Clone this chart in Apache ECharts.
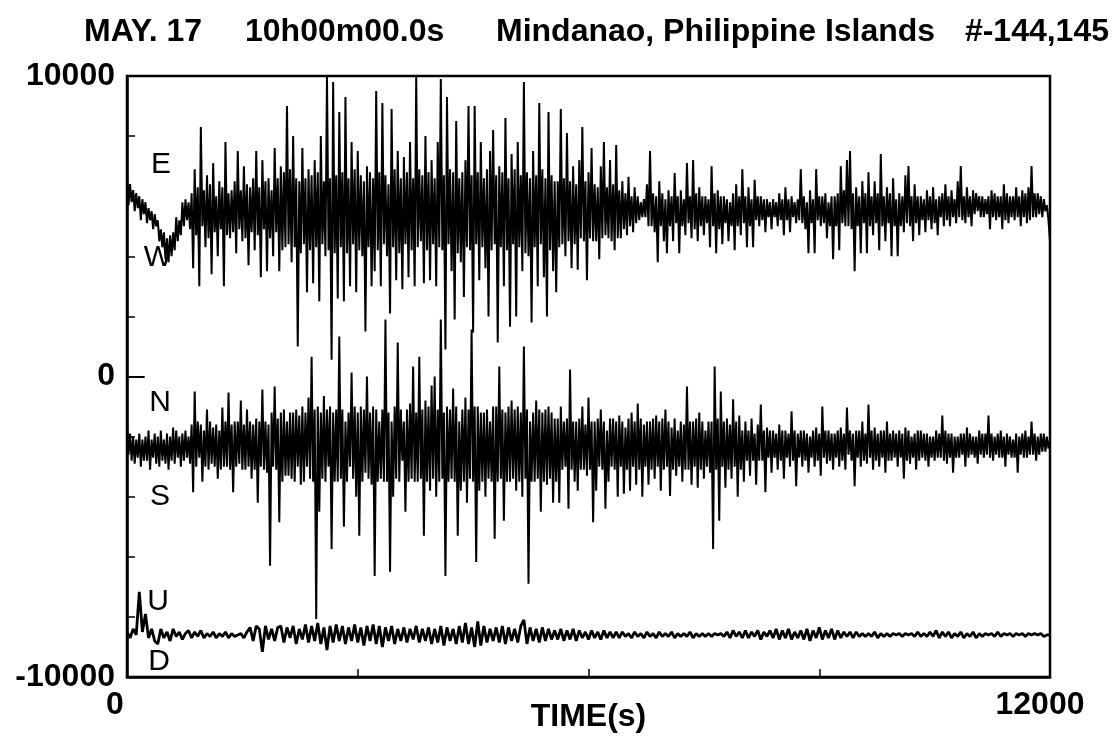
<!DOCTYPE html>
<html><head><meta charset="utf-8">
<script src="https://cdn.jsdelivr.net/npm/echarts@6/dist/echarts.min.js"></script>
<style>html,body{margin:0;padding:0;background:#fff}#c{width:1113px;height:736px}</style>
</head><body><div id="c"></div>
<script>
const horizStep = 20;   // E-W and N-S traces
const vertStep = 40;    // U-D trace

// East-West component (counts), one value every 20 s
const ewValues = [
6600,5700,6400,5800, 6200,5500,6100,5600, 6000,5200,5900,5400, 5800,5100,5600,5200, 5500,4900,5400,5000,
5200,4500,4900,4300, 4800,3900,4600,3800, 4700,4000,4800,4200, 5300,4500,5200,4700, 5800,5000,5900,5200,
5800,4900,6100,3600, 6900,4700,6300,3000, 8300,5000,6200,4300, 6700,4600,6400,3400, 7100,4800,6000,4000,
6500,4900,6300,3000, 7800,4700,6100,4600, 6200,4800,6500,4100, 7500,4900,6200,4500, 7000,4600,6400,3700,
6300,4800,6600,4200, 7500,4700,6300,3300, 7200,4900,6500,3500, 6600,4600,6200,4000, 7600,4800,6600,3500,
7000,4200,6800,4300, 9000,4400,6900,3800, 8000,4300,6600,1000, 6500,4100,7600,4400, 6600,2800,6900,4200,
6700,3100,7200,4300, 6800,2500,8000,4400, 6500,4000,10000,4200, 6600,560,9800,4100, 6700,2600,8800,4300,
6800,2500,9300,4100, 6600,3000,7800,4400, 6900,2800,7500,4200, 6700,4000,6500,1500, 7000,4300,6800,3000,
6600,3500,9500,4200, 6800,3000,9100,4400, 6700,4000,6400,2100, 8900,4300,6900,3200, 7500,4100,6600,2900,
7300,4400,6800,3300, 7800,4200,6600,3000, 10000,4300,6900,4500, 6700,3100,8000,4200, 6800,3200,7200,4400,
6600,3000,7800,4300, 9900,4200,6700,900, 9300,4400,6900,3500, 6800,1900,8500,4100, 6600,3800,6800,2650,
7200,4300,9000,4200, 6700,1460,9000,4400, 6800,3200,7800,4300, 6600,3600,6900,2000, 7500,4200,8200,4400,
6700,1130,7000,4300, 6800,3000,8600,4200, 6600,1660,7400,4400, 6900,2000,7800,4300, 6700,3500,9800,4100,
6800,4000,6600,1800, 7500,4300,6700,3000, 9100,4400,6900,3300, 6600,2000,8800,4200, 6700,3500,6500,2800,
6500,4300,8900,4400, 6600,4000,8100,4500, 6500,3600,7000,4400, 6400,3550,7200,4600, 8300,4500,6500,3200,
6800,4600,7600,4500, 6400,4500,6300,3900, 7000,4600,7800,4700, 6300,4600,7200,4500, 6400,4200,7700,4600,
6200,4600,6500,4900, 6100,4700,6650,5000, 6000,4800,6300,5100, 6000,5200,5800,5300, 5900,5300,6400,5000,
7500,5000,6100,4800, 6000,3800,6500,5000, 6100,4500,5900,4100, 6200,5000,6000,4500, 6770,5100,6000,4100,
6200,5000,5900,4700, 7100,5100,6000,4600, 7200,4900,6100,4500, 6300,5000,6000,4700, 6000,5100,5900,4300,
7000,5000,6100,4100, 6200,4900,6000,4400, 6000,5100,5900,4500, 5800,5000,6100,4200, 6400,5000,6000,4700,
6900,5100,6000,4300, 6300,5000,5900,4300, 6550,5200,6000,5000, 6000,5200,5900,4800, 5900,5300,5800,4900,
5900,5300,5800,5000, 6100,5200,5900,4700, 6300,5200,5900,4800, 6000,5300,5800,5100, 5900,5200,6900,5100,
6000,4900,5800,4100, 6200,5100,5900,4100, 6900,5200,6000,5000, 6000,5100,6100,4600, 5800,5000,6000,3900,
6000,5000,6100,4200, 7000,5100,6200,5000, 7200,5000,7500,4900, 6100,3500,6300,5000, 6000,4100,6500,5100,
6100,4100,6800,5000, 6000,4700,6500,5100, 6100,4200,7400,5000, 6000,4500,6300,5100, 6100,4000,6600,5000,
5900,4000,6100,5000, 6000,4800,6700,5100, 7000,5000,6000,4500, 6400,5100,6000,4700, 6000,5200,5900,4800,
6200,5200,6000,4900, 6300,5100,5900,4700, 6000,5300,6100,5000, 6400,5200,6000,5000, 6200,5300,5900,5100,
6500,5300,7000,5200, 6000,5100,6300,5300, 6000,5000,6200,5400, 6100,5500,6000,5300, 6000,5300,5900,5400,
6000,4900,6200,5300, 6100,5200,6000,5300, 6000,4900,6400,5200, 6100,5100,6000,5300, 6000,5200,6300,5300,
6000,5000,6200,5300, 6100,5100,6300,5200, 7000,5300,6100,5300, 6100,5400,6000,5300, 5900,5500,5700,5200,
4500
];

// North-South component (counts), one value every 20 s
const nsValues = [
-1700,-2600,-1900,-2800, -2000,-2900,-2100,-2700, -1900,-3000,-2100,-2800, -2000,-2800,-1800,-3100, -2100,-2700,-1900,-2900,
-2000,-3000,-1800,-2800, -2100,-2900,-1900,-3100, -2000,-2800,-1700,-2900, -1800,-2700,-2000,-3000, -1900,-2800,-1800,-2700,
-2000,-2900,-1600,-3850, -500,-3000,-1500,-2700, -1600,-3500,-1800,-3000, -1100,-3100,-1500,-2900, -1700,-3000,-1600,-3400,
-1800,-3100,-1030,-3000, -1500,-3000,-530,-3100, -1600,-3850,-1500,-3000, -1500,-2900,-800,-3100, -1600,-3100,-1100,-3000,
-1500,-3400,-1600,-3100, -1400,-4200,-1500,-3000, -430,-3100,-1500,-3200, -1600,-6300,-1200,-3000, -330,-3100,-1400,-4850,
-1200,-3500,-1100,-3300, -1500,-3300,-1200,-3400, -1200,-3500,-1100,-3000, -1300,-3600,-1000,-3500, -1200,-3000,-700,-3400,
660,-3500,-1100,-8070, -1000,-4500,-1200,-3400, -650,-3500,-1100,-3000, -1000,-5740,-1200,-3500, -1100,-3500,1330,-3400,
-1100,-5000,-1500,-3500, -1200,-3000,130,-3400, -1000,-4000,-1200,-5300, -1000,-3500,-1100,-3200, 0,-3400,-1200,-3600,
-1000,-6640,-1100,-3500, -1500,-3400,-1100,-3500, 1900,-3500,-1200,-6500, -1500,-4000,-1000,-3400, 1130,-3500,-1100,-2800,
-1500,-4500,-1100,-3500, -900,-3400,330,-3500, -1200,-3500,660,-3400, -1100,-5300,-800,-3500, -1000,-3800,-300,-3400,
0,-4000,-1100,-3500, 1900,-3400,-1200,-6640, -1000,-3500,-1100,-3400, -400,-3500,-1000,-5300, -1500,-3800,-1100,-3500,
-700,-4200,-1100,-3400, 1560,-3500,-1000,-6170, -1000,-3800,-1200,-3500, -1200,-4000,-1100,-3400, -1500,-3500,-1000,-5400,
-1000,-3500,330,-3400, -1100,-4800,-1200,-3500, -1000,-3500,-800,-3400, -1100,-3800,-1000,-3500, -1200,-4000,1000,-3400,
-1100,-6900,-1500,-3500, -1200,-3500,-800,-3400, -1100,-4500,-1200,-3500, -1100,-3600,-1000,-3400, -1200,-4200,-1400,-3500,
-1400,-4200,-1000,-3100, -1500,-3000,-1400,-4400, 230,-3100,-1500,-3500, -1500,-3800,-1400,-3100, -1000,-3100,-1600,-3300,
-700,-3100,-1500,-4850, -1500,-3800,-1400,-3000, -1100,-3100,-1500,-4400, -1800,-3500,-1400,-3000, -1400,-3100,-1500,-4000,
-1300,-3000,-1500,-3900, -1700,-3100,-1400,-3800, -1200,-3000,-1500,-3600, -900,-3100,-1400,-4000, -1600,-3000,-1500,-3600,
-1500,-3100,-1400,-3400, -1300,-3000,-1500,-3800, -1400,-3100,-1100,-3000, -1500,-3980,-1700,-3100, -1400,-3300,-1800,-3000,
-1500,-3500,-1600,-3100, -330,-3100,-1500,-3600, -1500,-3000,-1400,-3700, -1200,-3100,-1500,-3400, -1800,-3000,-1500,-3200,
-1500,-5740,330,-3100, -1400,-4800,-500,-3000, -1500,-3700,-1400,-3100, -1600,-3400,-760,-3000, -1500,-4000,-1300,-3100,
-1800,-3500,-1500,-2800, -1800,-3300,-1400,-2800, -1900,-3600,-1600,-2800, -930,-2800,-1800,-3850, -1700,-2700,-1800,-3200,
-1800,-2700,-1900,-3100, -1600,-2800,-1800,-3400, -1800,-2700,-1900,-3000, -1160,-2800,-1800,-3650, -1900,-2700,-1800,-3000,
-1800,-2800,-1900,-3200, -2000,-2700,-1800,-3000, -1700,-2800,-1900,-3300, -1000,-2700,-1800,-2900, -1800,-2800,-1900,-3100,
-1900,-2700,-1800,-3000, -1700,-2800,-1900,-3100, -1030,-2600,-1800,-2800, -1900,-3650,-1800,-2700, -1800,-3000,-1500,-2800,
-1900,-2900,-930,-2700, -1800,-3100,-1700,-2800, -1900,-3000,-1800,-2700, -1800,-3200,-1500,-2800, -1900,-2800,-1800,-2700,
-1900,-3000,-1800,-2700, -1900,-3400,-1700,-2800, -1800,-2900,-2000,-2700, -1900,-3100,-1800,-2800, -1800,-2700,-1900,-2800,
-1900,-3000,-2000,-2700, -2000,-2800,-1800,-2700, -1900,-2700,-1300,-2800, -1800,-2900,-1900,-2700, -1900,-3200,-2000,-2700,
-2000,-2700,-1900,-2600, -1900,-3000,-1700,-2700, -1900,-2600,-2000,-2700, -2000,-2900,-1800,-2600, -1900,-2700,-1900,-2600,
-1300,-2700,-1900,-2800, -2000,-2600,-1900,-2700, -1800,-2700,-2000,-3000, -1900,-2600,-2000,-2700, -2100,-2700,-1900,-3200,
-2000,-2600,-1900,-2700, -1800,-2700,-2000,-2600, -1500,-2600,-1900,-2800, -2000,-2600,-1900,-2500, -1900,-2500,-2000,-2400,
-2100
];

// Up-Down component (counts), one value every 40 s
const udValues = [
-8500,-8700,-8400,-8600,-7170,-8500,-7900,-8700,-8400,-8800,
-8900,-8400,-8700,-8500,-8800,-8400,-8650,-8500,-8750,-8550,
-8450,-8700,-8500,-8650,-8450,-8700,-8550,-8650,-8500,-8700,
-8550,-8650,-8500,-8700,-8550,-8650,-8600,-8550,-8700,-8500,
-8350,-8800,-8300,-8400,-9160,-8300,-8750,-8400,-8800,-8350,
-8300,-8850,-8350,-8700,-8300,-8900,-8400,-8750,-8250,-8850,
-8300,-8800,-8200,-8900,-8350,-9100,-8300,-8850,-8250,-8800,
-8300,-8900,-8350,-8800,-8250,-8850,-8350,-8950,-8300,-8800,
-8250,-8900,-8300,-9000,-8350,-8800,-8300,-8900,-8400,-8800,
-8350,-8850,-8400,-8750,-8300,-8850,-8400,-8800,-8350,-8900,
-8400,-8850,-8300,-8950,-8350,-8800,-8400,-8900,-8300,-8850,
-8200,-8900,-8350,-9000,-8150,-8950,-8300,-8850,-8400,-8800,
-8350,-8850,-8300,-8900,-8350,-8800,-8400,-8850,-8300,-8100,
-8900,-8350,-8800,-8400,-8850,-8350,-8800,-8400,-8750,-8450,
-8750,-8400,-8800,-8450,-8750,-8400,-8800,-8450,-8700,-8500,
-8750,-8450,-8700,-8500,-8750,-8450,-8700,-8500,-8700,-8500,
-8700,-8500,-8650,-8550,-8700,-8500,-8650,-8550,-8700,-8500,
-8650,-8550,-8700,-8500,-8650,-8550,-8650,-8500,-8700,-8550,
-8650,-8550,-8650,-8500,-8700,-8550,-8650,-8550,-8650,-8550,
-8650,-8550,-8600,-8550,-8650,-8500,-8700,-8450,-8650,-8500,
-8700,-8450,-8700,-8500,-8650,-8450,-8750,-8500,-8650,-8450,
-8700,-8400,-8750,-8450,-8700,-8400,-8750,-8500,-8700,-8450,
-8750,-8400,-8800,-8450,-8700,-8350,-8750,-8450,-8700,-8400,
-8750,-8450,-8700,-8500,-8650,-8500,-8700,-8500,-8650,-8550,
-8650,-8550,-8650,-8500,-8700,-8550,-8650,-8550,-8650,-8550,
-8600,-8550,-8650,-8550,-8600,-8550,-8650,-8500,-8650,-8550,
-8650,-8500,-8650,-8450,-8700,-8500,-8650,-8500,-8700,-8550,
-8650,-8500,-8700,-8550,-8650,-8500,-8700,-8550,-8650,-8550,
-8600,-8550,-8650,-8500,-8650,-8550,-8600,-8550,-8650,-8550,
-8600,-8550,-8650,-8550,-8600,-8550,-8600,-8550,-8650,-8600,
-8600
];

const titleParts = ['MAY. 17', '10h00m00.0s', 'Mindanao, Philippine Islands', '#-144,145'];
const componentLabels = ['E', 'W', 'N', 'S', 'U', 'D'];
const xTickLabels = [0, 12000];
const yTickLabels = [-10000, 0, 10000];
const xName = 'TIME(s)';

const FONT = '"Liberation Sans", Arial, Helvetica, sans-serif';
const toPairs = (vals, step) => vals.map((v, i) => [i * step, v]);

const chart = echarts.init(document.getElementById('c'), null, { renderer: 'canvas' });

const titleLefts = [84, 245, 496, null];
const titles = titleParts.map((t, k) => {
  const o = { text: t, top: 16, padding: 0, textStyle: { fontFamily: FONT, fontSize: 32, fontWeight: 'bold', color: '#000' } };
  if (titleLefts[k] === null) o.right = 4; else o.left = titleLefts[k];
  return o;
});

const labelPos = [[161, 165], [158, 258], [160, 403], [160, 497], [158, 602], [159, 662]];
const graphics = componentLabels.map((t, k) => ({
  type: 'text', x: labelPos[k][0], y: labelPos[k][1], z: 100,
  style: { text: t, fill: '#000', font: '30px ' + FONT, textAlign: 'center', textVerticalAlign: 'middle' }
}));

const lineSeries = (vals, step, w) => ({
  type: 'line', data: toPairs(vals, step), showSymbol: false, symbol: 'none',
  lineStyle: { color: '#000', width: w, join: 'bevel' }, animation: false, sampling: null, silent: true
});

const ewSeries = lineSeries(ewValues, horizStep, 2);
const nsSeries = lineSeries(nsValues, horizStep, 2);
const udSeries = lineSeries(udValues, vertStep, 2.8);
// longer reference tick at zero
nsSeries.markLine = {
  silent: true, symbol: 'none', label: { show: false },
  lineStyle: { color: '#000', width: 2, type: 'solid' },
  data: [[{ coord: [0, 0] }, { coord: [230, 0] }]]
};

const lbl = { fontFamily: FONT, fontSize: 32, fontWeight: 'bold', color: '#000' };

chart.setOption({
  backgroundColor: '#fff',
  animation: false,
  title: titles,
  graphic: graphics,
  grid: { left: 127, right: 63, top: 76, bottom: 59, outerBoundsMode: 'none', containLabel: false,
          show: true, borderColor: '#000', borderWidth: 2.5, backgroundColor: 'transparent' },
  xAxis: {
    type: 'value', min: 0, max: 12000, interval: 3000,
    name: xName, nameLocation: 'middle', nameGap: 24, nameMoveOverlap: false,
    nameTextStyle: lbl,
    axisLine: { show: true, onZero: false, lineStyle: { color: '#000', width: 2.5 } },
    axisTick: { show: true, inside: true, length: 8, lineStyle: { color: '#000', width: 1.5 } },
    splitLine: { show: false },
    axisLabel: Object.assign({}, lbl, {
      margin: 12,
      formatter: v => xTickLabels.includes(v) ? (v === 0 ? '{a|' + v + '}' : '{b|' + v + '}') : '',
      rich: {
        a: Object.assign({}, lbl, { padding: [0, 24, 0, 0] }),
        b: Object.assign({}, lbl, { padding: [0, 20, 8, 0] })
      }
    })
  },
  yAxis: {
    type: 'value', min: -10000, max: 10000, interval: 2000,
    axisLine: { show: true, onZero: false, lineStyle: { color: '#000', width: 2.5 } },
    axisTick: { show: true, inside: true, length: 8, lineStyle: { color: '#000', width: 1.5 } },
    splitLine: { show: false },
    axisLabel: Object.assign({}, lbl, {
      margin: 12,
      formatter: v => yTickLabels.includes(v) ? String(v) : ''
    })
  },
  series: [ewSeries, nsSeries, udSeries]
});
</script>
</body></html>
